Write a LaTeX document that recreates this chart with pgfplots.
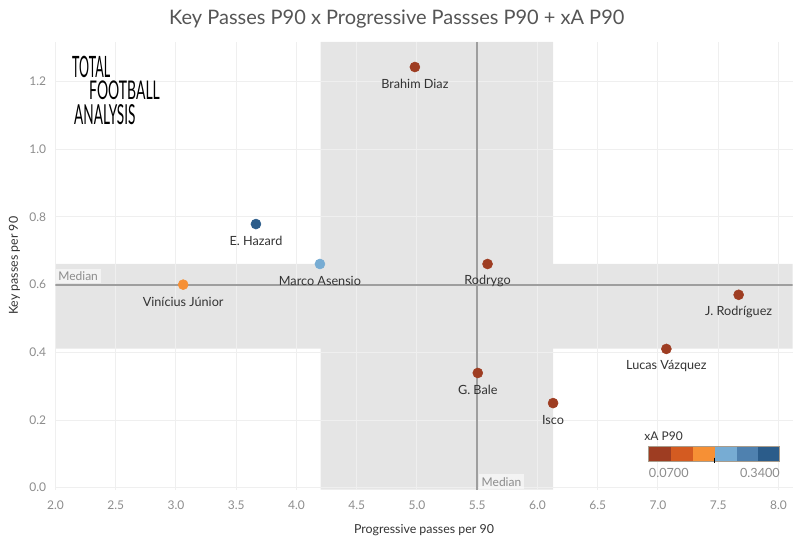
\documentclass[border=0pt]{standalone}
\usepackage{fontspec}
\setmainfont{Lato}
\usepackage{pgfplots}
\pgfplotsset{compat=1.18}
\definecolor{c1}{HTML}{9E3D22}
\definecolor{c2}{HTML}{D45B21}
\definecolor{c3}{HTML}{F69035}
\definecolor{c4}{HTML}{77ACD3}
\definecolor{c5}{HTML}{4F81AF}
\definecolor{c6}{HTML}{2B5C8A}
\definecolor{bandc}{HTML}{E5E5E5}
\definecolor{gridc}{HTML}{EFEFEF}
\definecolor{medline}{HTML}{9E9E9E}
\definecolor{tickc}{HTML}{8C8C8C}
\definecolor{labc}{HTML}{333333}
\definecolor{titc}{HTML}{555555}
\definecolor{legborder}{HTML}{A89C8C}
\begin{document}
\begin{tikzpicture}
\path (0,0) rectangle (594.75pt,408.75pt);
\begin{axis}[
  set layers,
  at={(41.6pt,41.25pt)}, anchor=south west,
  scale only axis, width=553.1pt, height=336pt,
  xmin=2.0, xmax=8.117, ymin=-0.006, ymax=1.317,
  xtick={2,2.5,3,3.5,4,4.5,5,5.5,6,6.5,7,7.5,8},
  ytick={0,0.2,0.4,0.6,0.8,1.0,1.2},
  /pgf/number format/assume math mode=true,
  /pgf/number format/fixed, /pgf/number format/fixed zerofill,
  /pgf/number format/precision=1,
  grid=major,
  major grid style={draw=gridc, line width=0.75pt},
  major tick length=0pt,
  tick style={draw=none},
  axis line style={draw=none},
  ticklabel style={font=\fontsize{9}{11}\selectfont, text=tickc},
  xticklabel style={yshift=-5pt},
  yticklabel style={xshift=-3.4pt},
  xlabel={Progressive passes per 90},
  ylabel={Key passes per 90},
  label style={font=\fontsize{9.3}{11}\selectfont, text=labc},
  xlabel style={at={(axis description cs:0.5,-0.0893)}, anchor=center},
  ylabel style={at={(axis description cs:-0.0555,0.5)}, anchor=center},
]
% quartile bands
\addplot[fill=bandc, draw=none, on layer=axis background] coordinates {(4.2,-0.006) (6.13,-0.006) (6.13,1.317) (4.2,1.317) (4.2,-0.006)};
\addplot[fill=bandc, draw=none, on layer=axis background] coordinates {(2.0,0.411) (8.117,0.411) (8.117,0.661) (2.0,0.661) (2.0,0.411)};
% median lines
\addplot[draw=medline, line width=1.5pt] coordinates {(5.5,-0.006) (5.5,1.317)};
\addplot[draw=medline, line width=1.5pt] coordinates {(2.0,0.6) (8.117,0.6)};
\node[anchor=south west, fill=white, fill opacity=0.55, text opacity=1, text=tickc, inner sep=2pt, font=\fontsize{9}{11}\selectfont] at (axis cs:2.0,0.604) {Median};
\node[anchor=south west, fill=white, fill opacity=0.55, text opacity=1, text=tickc, inner sep=2.3pt, font=\fontsize{9}{11}\selectfont] at (axis cs:5.51,-0.006) {Median};
% players
\addplot[only marks, mark=*, mark size=3.75pt, color=c1] coordinates {(4.983,1.243)} node[anchor=center, yshift=-12.75pt, text=labc, font=\fontsize{9.5}{11}\selectfont] {Brahim Diaz};
\addplot[only marks, mark=*, mark size=3.75pt, color=c6] coordinates {(3.664,0.779)} node[anchor=center, yshift=-12.75pt, text=labc, font=\fontsize{9.5}{11}\selectfont] {E. Hazard};
\addplot[only marks, mark=*, mark size=3.75pt, color=c4] coordinates {(4.195,0.661)} node[anchor=center, yshift=-12.75pt, text=labc, font=\fontsize{9.5}{11}\selectfont] {Marco Asensio};
\addplot[only marks, mark=*, mark size=3.75pt, color=c3] coordinates {(3.06,0.600)} node[anchor=center, yshift=-12.75pt, text=labc, font=\fontsize{9.5}{11}\selectfont] {Vinícius Júnior};
\addplot[only marks, mark=*, mark size=3.75pt, color=c1] coordinates {(5.586,0.661)} node[anchor=center, yshift=-12.75pt, text=labc, font=\fontsize{9.5}{11}\selectfont] {Rodrygo};
\addplot[only marks, mark=*, mark size=3.75pt, color=c1] coordinates {(7.67,0.570)} node[anchor=center, yshift=-12.75pt, text=labc, font=\fontsize{9.5}{11}\selectfont] {J. Rodríguez};
\addplot[only marks, mark=*, mark size=3.75pt, color=c1] coordinates {(7.07,0.410)} node[anchor=center, yshift=-12.75pt, text=labc, font=\fontsize{9.5}{11}\selectfont] {Lucas Vázquez};
\addplot[only marks, mark=*, mark size=3.75pt, color=c1] coordinates {(5.505,0.339)} node[anchor=center, yshift=-12.75pt, text=labc, font=\fontsize{9.5}{11}\selectfont] {G. Bale};
\addplot[only marks, mark=*, mark size=3.75pt, color=c1] coordinates {(6.13,0.250)} node[anchor=center, yshift=-12.75pt, text=labc, font=\fontsize{9.5}{11}\selectfont] {Isco};
\end{axis}
% overlays in pixel coordinates (origin top-left)
\begin{scope}[x=0.75pt, y=-0.75pt, shift={(0pt,408.75pt)}]
  \node[text=titc, font=\fontsize{15}{18}\selectfont] at (397,19) {Key Passes P90 x Progressive Passses P90 + xA P90};
  % logo
  \node[anchor=west, inner sep=0pt] at (72,67) {\resizebox{28.5pt}{16pt}{TOTAL}};
  \node[anchor=west, inner sep=0pt] at (89,90) {\resizebox{53pt}{14pt}{FOOTBALL}};
  \node[anchor=west, inner sep=0pt] at (74,115) {\resizebox{46pt}{15pt}{ANALYSIS}};
  % legend
  \node[anchor=west, text=labc, inner sep=0pt, font=\fontsize{9}{11}\selectfont] at (644.5,436) {xA P90};
  \fill[c1] (649.3,446.7) rectangle (671.7,461.3);
  \fill[c2] (671.7,446.7) rectangle (693,461.3);
  \fill[c3] (693,446.7) rectangle (715.3,461.3);
  \fill[c4] (715.3,446.7) rectangle (737,461.3);
  \fill[c5] (737,446.7) rectangle (758,461.3);
  \fill[c6] (758,446.7) rectangle (780.3,461.3);
  \draw[legborder, line width=0.75pt] (649.3,446.7) rectangle (780.3,461.3);
  \draw[black, line width=0.75pt] (715.3,458) -- (715.3,463);
  \node[anchor=west, text=tickc, inner sep=0pt, font=\fontsize{9.5}{11}\selectfont] at (649,473) {0.0700};
  \node[anchor=east, text=tickc, inner sep=0pt, font=\fontsize{9.5}{11}\selectfont] at (780.5,473) {0.3400};
\end{scope}
\end{tikzpicture}
\end{document}
